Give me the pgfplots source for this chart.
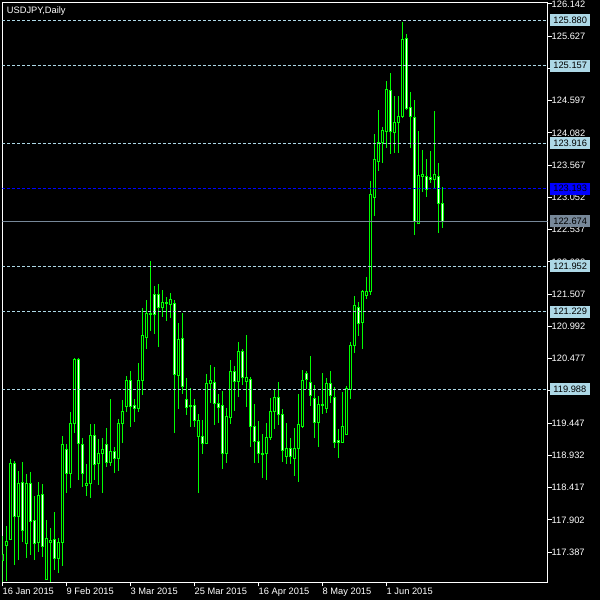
\documentclass[border=0pt]{standalone}
\usepackage{fontspec}
\setmainfont{Liberation Sans}
\usepackage{pgfplots}
\pgfplotsset{compat=1.18}
\usepgfplotslibrary{statistics}

\definecolor{candle}{HTML}{00FF00}
\definecolor{lb}{HTML}{ADD8E6}
\definecolor{slate}{HTML}{778899}
\definecolor{bidblue}{HTML}{0000FF}

\pgfplotsset{
  bullc/.style={draw=candle, line width=1pt,
    boxplot/every box/.style={draw=candle, fill=black},
    boxplot/every median/.style={draw=candle},
    boxplot/every whisker/.style={draw=candle}},
  bearc/.style={draw=candle, line width=1pt,
    boxplot/every box/.style={draw=candle, fill=white},
    boxplot/every median/.style={draw=candle},
    boxplot/every whisker/.style={draw=candle}},
  hline/.style={line width=1pt, dash pattern=on 3pt off 2pt},
}
% \bull{index}{open}{high}{low}{close}
\newcommand{\bull}[5]{\addplot[bullc, boxplot prepared={draw position=#1,
  lower whisker=#4, lower quartile=#2, median=#2, upper quartile=#5, upper whisker=#3}] coordinates {};}
\newcommand{\bear}[5]{\addplot[bearc, boxplot prepared={draw position=#1,
  lower whisker=#4, lower quartile=#5, median=#5, upper quartile=#2, upper whisker=#3}] coordinates {};}

\begin{document}
\begin{tikzpicture}
\fill[black] (-2.5pt,-17.7pt) rectangle (597.5pt,582.3pt);
\begin{axis}[
  scale only axis, width=545pt, height=580pt,
  xmin=-0.01, xmax=136.25, ymin=116.905, ymax=126.167,
  axis line style={white, line width=1pt},
  tick style={white, line width=1pt}, major tick length=4pt, tick align=outside,
  xtick pos=left, ytick pos=right,
  xtick={0,16,32,48,64,80,96},
  xticklabels={16 Jan 2015, 9 Feb 2015, 3 Mar 2015, 25 Mar 2015, 16 Apr 2015, 8 May 2015, 1 Jun 2015},
  ytick={126.142,125.627,125.112,124.597,124.082,123.567,123.052,122.537,122.022,121.507,120.992,120.477,119.962,119.447,118.932,118.417,117.902,117.387},
  yticklabels={126.142,125.627,125.112,124.597,124.082,123.567,123.052,122.537,122.022,121.507,120.992,120.477,119.962,119.447,118.932,118.417,117.902,117.387},
  ticklabel style={text=white, font=\fontsize{9.3}{10}\selectfont},
  xticklabel style={anchor=north west, inner sep=0pt, yshift=-1.5pt},
  yticklabel style={anchor=west, inner sep=0pt},
  boxplot/draw direction=y,
  boxplot/box extend=0.5, boxplot/whisker extend=0,
  clip mode=individual,
]
\bull{0}{117.261}{117.644}{116.909}{117.341}
\bull{1}{117.489}{117.804}{116.925}{117.553}
\bull{2}{117.596}{118.874}{117.580}{118.810}
\bear{3}{118.810}{118.842}{117.181}{117.963}
\bull{4}{117.963}{118.682}{117.261}{118.490}
\bear{5}{118.506}{118.826}{117.548}{117.740}
\bull{6}{117.532}{118.634}{117.293}{118.475}
\bear{7}{118.475}{118.666}{117.341}{117.868}
\bear{8}{117.884}{118.283}{117.261}{117.532}
\bull{9}{117.548}{118.506}{117.389}{118.299}
\bear{10}{118.315}{118.475}{117.309}{117.484}
\bull{11}{116.957}{117.900}{116.941}{117.612}
\bull{12}{117.548}{117.772}{116.909}{117.580}
\bear{13}{117.596}{118.027}{117.101}{117.293}
\bull{14}{117.293}{117.612}{117.053}{117.548}
\bull{15}{117.548}{119.241}{117.165}{119.113}
\bear{16}{119.033}{119.113}{118.331}{118.650}
\bull{17}{118.650}{119.624}{118.411}{119.433}
\bull{18}{119.433}{120.487}{119.289}{120.455}
\bear{19}{120.455}{120.487}{118.538}{119.129}
\bear{20}{119.113}{119.209}{118.427}{118.650}
\bull{21}{118.443}{118.794}{118.283}{118.490}
\bull{22}{118.490}{119.433}{118.251}{119.257}
\bear{23}{119.257}{119.433}{118.538}{118.794}
\bull{24}{118.810}{119.193}{118.459}{118.954}
\bull{25}{118.954}{119.209}{118.331}{119.018}
\bear{26}{119.113}{119.369}{118.746}{118.826}
\bull{27}{118.826}{119.832}{118.762}{118.986}
\bear{28}{118.986}{119.065}{118.650}{118.874}
\bull{29}{118.874}{119.513}{118.682}{119.433}
\bull{30}{119.433}{119.816}{119.129}{119.640}
\bull{31}{119.720}{120.199}{119.624}{120.135}
\bear{32}{120.135}{120.279}{119.385}{119.720}
\bear{33}{119.736}{119.832}{119.465}{119.688}
\bull{34}{119.688}{120.407}{119.624}{120.135}
\bull{35}{120.135}{121.285}{119.896}{120.854}
\bull{36}{120.822}{121.413}{120.630}{121.205}
\bull{37}{121.189}{122.036}{120.918}{121.205}
\bear{38}{121.493}{121.637}{120.870}{121.189}
\bear{39}{121.493}{121.669}{120.662}{121.301}
\bull{40}{121.301}{121.573}{121.142}{121.381}
\bull{41}{121.365}{121.461}{121.078}{121.381}
\bull{42}{121.349}{121.525}{121.126}{121.413}
\bear{43}{121.365}{121.413}{119.289}{120.231}
\bull{44}{120.215}{121.046}{119.672}{120.790}
\bear{45}{120.806}{121.205}{119.912}{120.024}
\bear{46}{119.832}{120.167}{119.576}{119.704}
\bull{47}{119.720}{120.008}{119.385}{119.736}
\bear{48}{119.736}{119.832}{119.385}{119.481}
\bull{49}{119.241}{119.592}{118.331}{119.481}
\bear{50}{119.241}{119.497}{118.954}{119.129}
\bull{51}{119.129}{120.231}{119.113}{120.072}
\bull{52}{120.072}{120.375}{119.768}{120.135}
\bear{53}{120.103}{120.343}{119.417}{119.768}
\bear{54}{119.768}{119.912}{119.449}{119.704}
\bear{55}{119.736}{119.960}{118.714}{118.954}
\bull{56}{118.954}{119.688}{118.810}{119.545}
\bull{57}{119.529}{120.455}{119.433}{120.279}
\bear{58}{120.279}{120.359}{119.640}{120.119}
\bull{59}{120.119}{120.742}{119.864}{120.583}
\bear{60}{120.583}{120.630}{120.056}{120.183}
\bull{61}{120.119}{120.854}{119.704}{120.183}
\bear{62}{120.151}{120.183}{119.065}{119.385}
\bear{63}{119.385}{119.752}{118.810}{119.161}
\bear{64}{119.161}{119.481}{118.810}{118.954}
\bear{65}{118.954}{119.273}{118.570}{118.938}
\bull{66}{118.954}{119.449}{118.538}{119.225}
\bull{67}{119.225}{119.848}{119.177}{119.640}
\bull{68}{119.640}{119.976}{119.353}{119.864}
\bear{69}{119.864}{120.103}{119.417}{119.592}
\bear{70}{119.592}{119.672}{118.826}{119.002}
\bull{71}{118.906}{119.449}{118.794}{119.049}
\bear{72}{119.049}{119.209}{118.794}{118.906}
\bull{73}{118.874}{119.369}{118.602}{119.049}
\bull{74}{119.049}{119.912}{118.506}{119.417}
\bull{75}{119.385}{120.295}{119.369}{120.135}
\bear{76}{120.247}{120.279}{119.992}{120.151}
\bear{77}{120.103}{120.519}{119.720}{119.880}
\bear{78}{119.848}{120.056}{119.209}{119.449}
\bull{79}{119.449}{119.880}{119.065}{119.752}
\bear{80}{119.752}{120.247}{119.592}{119.736}
\bull{81}{119.688}{120.167}{119.608}{120.087}
\bear{82}{120.087}{120.279}{119.768}{119.880}
\bear{83}{119.864}{120.024}{119.049}{119.145}
\bear{84}{119.177}{119.353}{118.890}{119.145}
\bull{85}{119.145}{119.944}{119.130}{119.385}
\bull{86}{119.273}{120.040}{119.257}{119.992}
\bull{87}{119.976}{120.742}{119.832}{120.694}
\bull{88}{120.694}{121.477}{120.567}{121.333}
\bear{89}{121.301}{121.381}{120.838}{121.030}
\bull{90}{121.046}{121.573}{120.630}{121.541}
\bull{91}{121.477}{121.780}{121.429}{121.541}
\bull{92}{121.541}{123.313}{121.493}{123.090}
\bull{93}{123.042}{124.064}{122.754}{123.649}
\bull{94}{123.617}{124.447}{123.473}{123.936}
\bull{95}{123.936}{124.176}{123.601}{124.112}
\bull{96}{124.096}{124.910}{123.840}{124.767}
\bear{97}{124.751}{125.038}{123.745}{124.096}
\bull{98}{124.080}{124.671}{123.761}{124.240}
\bull{99}{124.240}{124.671}{123.761}{124.351}
\bull{100}{124.336}{125.853}{124.320}{125.565}
\bear{101}{125.581}{125.661}{124.447}{124.463}
\bear{102}{124.479}{124.735}{123.840}{124.336}
\bear{103}{124.320}{124.607}{122.451}{122.659}
\bull{104}{122.627}{124.112}{122.627}{123.409}
\bull{105}{123.393}{123.809}{123.138}{123.425}
\bear{106}{123.393}{123.665}{123.058}{123.170}
\bear{107}{123.377}{123.793}{123.281}{123.345}
\bull{108}{123.345}{124.431}{123.202}{123.425}
\bear{109}{123.393}{123.601}{122.483}{122.946}
\bear{110}{122.946}{123.218}{122.563}{122.674}
% horizontal levels
\addplot[hline, lb] coordinates {(-0.01,125.880) (136.25,125.880)};
\addplot[hline, lb] coordinates {(-0.01,125.157) (136.25,125.157)};
\addplot[hline, lb] coordinates {(-0.01,123.916) (136.25,123.916)};
\addplot[hline, lb] coordinates {(-0.01,121.952) (136.25,121.952)};
\addplot[hline, lb] coordinates {(-0.01,121.229) (136.25,121.229)};
\addplot[hline, lb] coordinates {(-0.01,119.988) (136.25,119.988)};
\addplot[hline, bidblue] coordinates {(-0.01,123.193) (136.25,123.193)};
\addplot[slate, line width=1pt] coordinates {(-0.01,122.674) (136.25,122.674)};
\coordinate (l1) at (axis cs:136.25,125.880);
\coordinate (l2) at (axis cs:136.25,125.157);
\coordinate (l3) at (axis cs:136.25,123.916);
\coordinate (l4) at (axis cs:136.25,123.193);
\coordinate (l5) at (axis cs:136.25,122.674);
\coordinate (l6) at (axis cs:136.25,121.952);
\coordinate (l7) at (axis cs:136.25,121.229);
\coordinate (l8) at (axis cs:136.25,119.988);
\end{axis}
\tikzset{pl/.style={anchor=west, inner xsep=3.2pt, inner ysep=0pt, minimum height=12pt,
  text=black, font=\fontsize{9.3}{10}\selectfont, xshift=2.5pt}}
\node[pl, fill=lb] at (l1) {125.880};
\node[pl, fill=lb] at (l2) {125.157};
\node[pl, fill=lb] at (l3) {123.916};
\node[pl, fill=bidblue] at (l4) {123.193};
\node[pl, fill=slate] at (l5) {122.674};
\node[pl, fill=lb] at (l6) {121.952};
\node[pl, fill=lb] at (l7) {121.229};
\node[pl, fill=lb] at (l8) {119.988};
\node[anchor=base west, inner sep=0pt, text=white, font=\fontsize{9.3}{10}\selectfont] at (4.2pt,569pt) {USDJPY,Daily};
\end{tikzpicture}
\end{document}
